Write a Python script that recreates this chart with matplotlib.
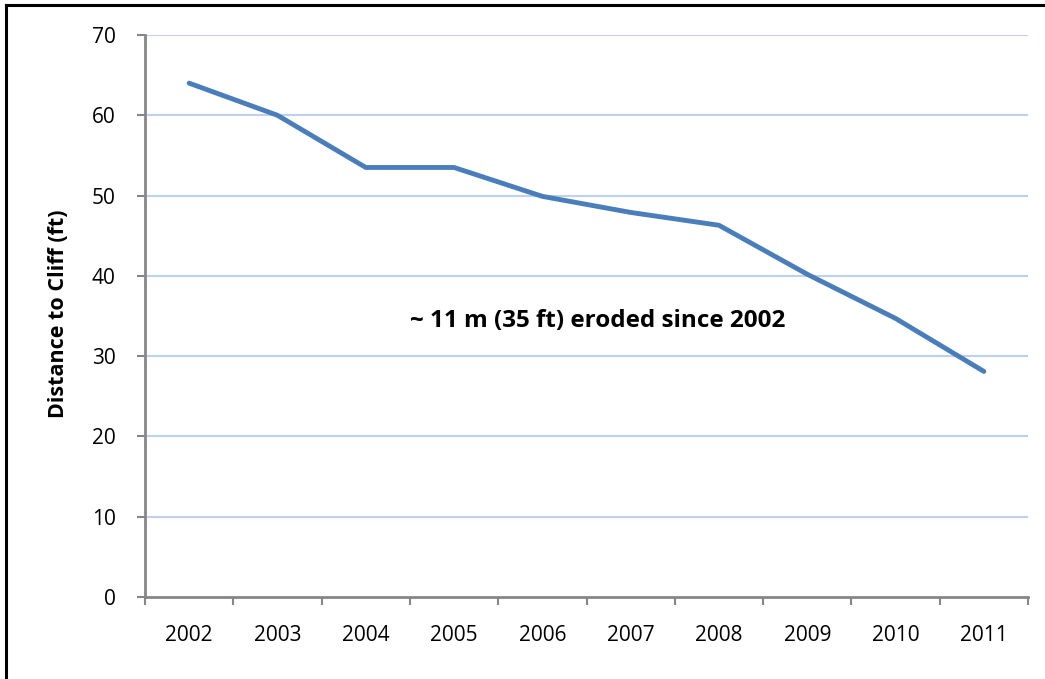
import matplotlib
matplotlib.use("Agg")
import matplotlib.pyplot as plt
from matplotlib.lines import Line2D
import numpy as np

years    = ["2002", "2003", "2004", "2005", "2006", "2007", "2008", "2009", "2010", "2011"]
distance = [64.0, 60.0, 53.5, 53.5, 49.9, 47.9, 46.3, 40.2, 34.7, 28.1]
y_ticks  = [0, 10, 20, 30, 40, 50, 60, 70]

plt.rcParams["font.family"] = ["Open Sans", "DejaVu Sans"]

W, H = 1045, 679
fig = plt.figure(figsize=(W / 100, H / 100), dpi=100)
ax = fig.add_axes([145 / W, (H - 597) / H, (1028 - 145) / W, (597 - 35) / H])

x = np.arange(len(years))
ax.plot(x, distance, color="#4A7EBB", lw=3.5, solid_capstyle="round",
        solid_joinstyle="round", zorder=3)

ax.set_xlim(-0.5, len(years) - 0.5)
ax.set_ylim(0, 70)
ax.set_yticks(y_ticks)
ax.set_yticklabels([str(t) for t in y_ticks], fontsize=15)
ax.set_xticks(x)
ax.set_xticklabels(years, fontsize=15)
ax.set_xticks(np.arange(len(years) + 1) - 0.5, minor=True)
ax.tick_params(axis="x", which="major", length=0, pad=20)
ax.tick_params(axis="x", which="minor", length=6, width=1.5, color="#868686", direction="out")
ax.tick_params(axis="y", length=6, width=1.5, color="#868686", direction="out", pad=15)

for t in y_ticks[1:]:
    ax.axhline(t, color="#BFD0F0", lw=1.5, zorder=1)

for s in ["top", "right"]:
    ax.spines[s].set_visible(False)
for s in ["left", "bottom"]:
    ax.spines[s].set_color("#868686")
    ax.spines[s].set_linewidth(2)

ax.text(4.63, 34.4, "~ 11 m (35 ft) eroded since 2002", fontsize=17.5,
        fontweight="bold", ha="center", va="center")

fig.text(58 / W, (H - 314) / H, "Distance to Cliff (ft)", rotation=90,
         fontsize=15.5, fontweight="bold", ha="center", va="center")

# outer frame (top and left edges only visible)
fig.add_artist(Line2D([6 / W, 1], [1 - 5 / H, 1 - 5 / H], color="black", lw=2.2,
                      transform=fig.transFigure))
fig.add_artist(Line2D([6 / W, 6 / W], [0, 1 - 5 / H], color="black", lw=2.2,
                      transform=fig.transFigure))

fig.savefig("out.png", dpi=100)
